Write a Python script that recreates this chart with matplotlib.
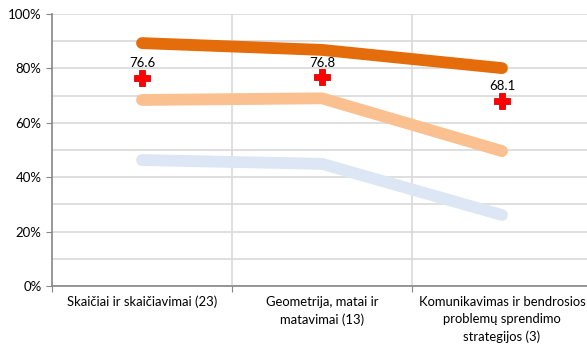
import matplotlib
matplotlib.use("Agg")
import matplotlib.pyplot as plt
import numpy as np

categories = ["Skaičiai ir skaičiavimai (23)",
              "Geometrija, matai ir\nmatavimai (13)",
              "Komunikavimas ir bendrosios\nproblemų sprendimo\nstrategijos (3)"]
series_dark = [89.3, 86.8, 80.1]
series_light_orange = [68.4, 69.0, 49.6]
series_light_blue = [46.3, 44.9, 26.1]
markers_vals = [76.6, 76.8, 68.1]
yticks = [0, 20, 40, 60, 80, 100]

plt.rcParams['font.family'] = ['Lato', 'DejaVu Sans']

fig = plt.figure(figsize=(5.87, 3.49), dpi=100)
ax = fig.add_axes([52/587, 63/349, 540/587, 272/349])

x = np.arange(len(categories)) + 0.5

ax.plot(x, series_light_blue, color="#DCE6F4", lw=8.5, solid_capstyle="round", solid_joinstyle="round", zorder=3)
ax.plot(x, series_light_orange, color="#FAC090", lw=8.5, solid_capstyle="round", solid_joinstyle="round", zorder=3)
ax.plot(x, series_dark, color="#E46C0A", lw=8.5, solid_capstyle="round", solid_joinstyle="round", zorder=3)
ax.plot(x, markers_vals, linestyle="none", marker="P", markersize=11,
        color="#FF0000", markeredgecolor="#E00000", markeredgewidth=0.6, zorder=4)
for xi, v in zip(x, markers_vals):
    ax.annotate(f"{v:.1f}", (xi, v), xytext=(0, 6), textcoords="offset points",
                ha="center", va="bottom", fontsize=9.5, color="#000000", zorder=5)

ax.set_xlim(0, 3)
ax.set_ylim(0, 100)
ax.set_yticks(yticks)
ax.set_yticklabels([f"{t}%" for t in yticks], fontsize=9.5)
ax.set_yticks(np.arange(0, 101, 10), minor=True)
ax.grid(axis="y", which="both", color="#D9D9D9", lw=1.2)
ax.set_xticks([0, 1, 2, 3])
ax.set_xticklabels([])
ax.set_xticks(x, minor=True)
ax.set_xticklabels(categories, minor=True, fontsize=9.4, linespacing=1.5)
ax.tick_params(axis="x", which="minor", length=0, pad=7)
ax.tick_params(axis="x", which="major", length=4, color="#868686", direction="out")
ax.tick_params(axis="y", which="major", length=4, color="#868686", direction="out")
ax.tick_params(axis="y", which="minor", length=0)
for xv in [1, 2]:
    ax.axvline(xv, color="#D9D9D9", lw=1.2, zorder=1)
ax.set_axisbelow(True)
for s in ["top", "right"]:
    ax.spines[s].set_visible(False)
for s in ["left", "bottom"]:
    ax.spines[s].set_color("#868686")
    ax.spines[s].set_linewidth(1.2)

fig.savefig("out.png", dpi=100)
